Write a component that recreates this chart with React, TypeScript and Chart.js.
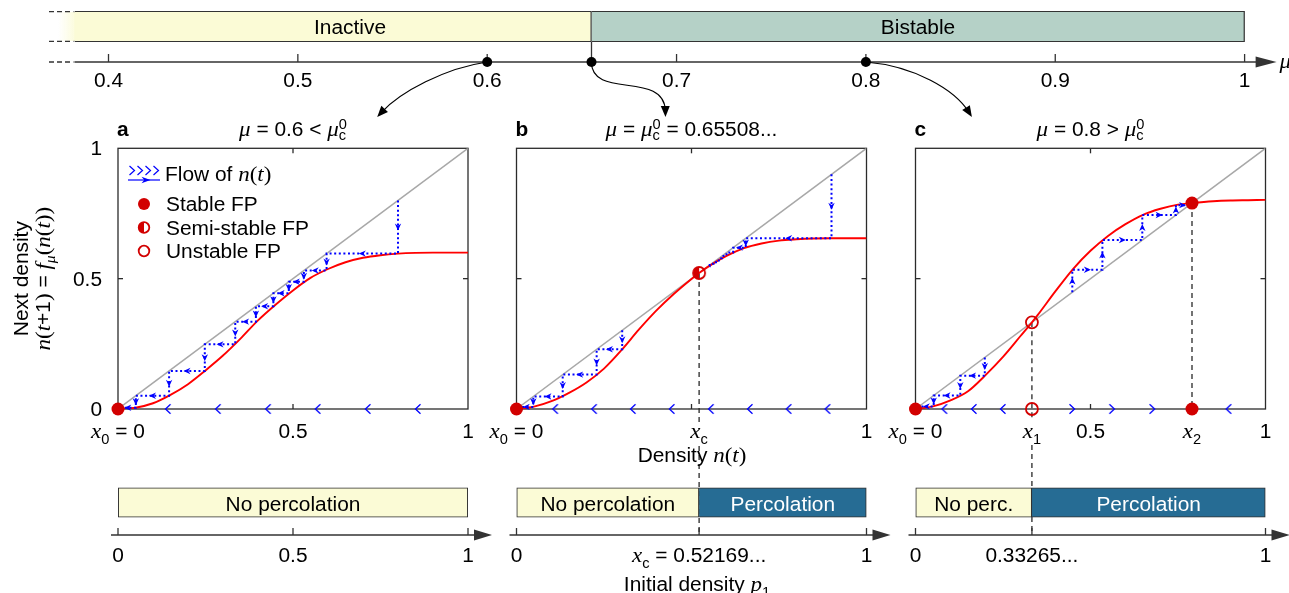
import React, { useEffect, useRef } from 'react';
import { Chart, registerables } from 'chart.js';

Chart.register(...registerables);

const W = 1289;
const H = 593;

/* ---------------- data ---------------- */
// top mu axis
const muTicks = [0.4, 0.5, 0.6, 0.7, 0.8, 0.9, 1];
const muTickLabels = ['0.4', '0.5', '0.6', '0.7', '0.8', '0.9', '1'];
const muMarked = [0.6, 0.65508, 0.8];
const muPhaseNames = ['Inactive', 'Bistable'];
const muPhaseFrom = [0.382, 0.65508];
const muPhaseTo = [0.65508, 1];

// map f_mu(n)
const nA = [0, 0.05, 0.1, 0.15, 0.2, 0.25, 0.3, 0.35, 0.4, 0.45, 0.5, 0.55, 0.6, 0.65, 0.7, 0.75, 0.8, 0.85, 0.9, 0.95, 1];
const fA = [0, 0.005, 0.022, 0.054, 0.095, 0.148, 0.205, 0.27, 0.34, 0.4, 0.455, 0.503, 0.537, 0.563, 0.58, 0.59, 0.596, 0.599, 0.6, 0.6, 0.6];
const nB = [0, 0.05, 0.1, 0.15, 0.2, 0.25, 0.3, 0.35, 0.4, 0.45, 0.5, 0.52169, 0.55, 0.6, 0.65, 0.7, 0.75, 0.8, 0.85, 0.9, 0.95, 1];
const fB = [0, 0.009, 0.03, 0.062, 0.102, 0.155, 0.226, 0.305, 0.378, 0.442, 0.499, 0.52169, 0.548, 0.587, 0.617, 0.635, 0.646, 0.651, 0.654, 0.655, 0.655, 0.655];
const nC = [0, 0.05, 0.1, 0.15, 0.2, 0.25, 0.3, 0.33265, 0.35, 0.4, 0.45, 0.5, 0.55, 0.6, 0.65, 0.7, 0.75, 0.79, 0.85, 0.9, 0.95, 1];
const fC = [0, 0.01, 0.033, 0.068, 0.13, 0.2, 0.28, 0.33265, 0.362, 0.452, 0.537, 0.607, 0.664, 0.709, 0.745, 0.768, 0.784, 0.79, 0.797, 0.8, 0.801, 0.802];

// cobweb iterations n(t)
const cobA = [0.8, 0.596, 0.531, 0.488, 0.444, 0.394, 0.335, 0.248, 0.146, 0.051, 0.005];
const cobB1 = [0.302, 0.229, 0.132, 0.048, 0.008];
const cobB2 = [0.9, 0.655, 0.619, 0.6, 0.587, 0.578, 0.57, 0.563, 0.557, 0.552, 0.548];
const cobC1 = [0.198, 0.128, 0.052, 0.01];
const cobC2 = [0.448, 0.534, 0.648, 0.744, 0.782, 0.789];

// flow chevrons on the n-axis
const flowALeft = [0.143, 0.286, 0.429, 0.571, 0.714, 0.857];
const flowBLeft = [0.111, 0.222, 0.333, 0.444, 0.556, 0.667, 0.778, 0.889];
const flowCLeft = [0.083, 0.167, 0.25, 0.895];
const flowCRight = [0.447, 0.561, 0.676];

// fixed points
const xc = 0.52169;
const x1 = 0.33265;
const x2 = 0.79;
const stableA = [0];
const stableB = [0];
const semiB = [xc];
const stableC = [0, x2];
const unstableC = [x1];

// bottom percolation bars
const percANames = ['No percolation'];
const percAFrom = [0];
const percATo = [1];
const percBNames = ['No percolation', 'Percolation'];
const percBFrom = [0, xc];
const percBTo = [xc, 1];
const percCNames = ['No perc.', 'Percolation'];
const percCFrom = [0, x1];
const percCTo = [x1, 1];
const p1TicksA = [0, 0.5, 1];
const p1LabelsA = ['0', '0.5', '1'];
const p1TicksB = [0, xc, 1];
const p1LabelsB = ['0', '= 0.52169...', '1'];
const p1TicksC = [0, x1, 1];
const p1LabelsC = ['0', '0.33265...', '1'];

/* ---------------- style ---------------- */
const YEL = '#fbfbd6';
const TEAL = '#b5d1c7';
const PBLUE = '#266c94';
const EDGE = '#333333';
const AXC = '#2b2b2b';
const RED = '#ff0000';
const FPRED = '#d20000';
const BLUE = '#0000ff';
const GRAY = '#a8a8a8';

const SANS = '"Liberation Sans", Arial, Helvetica, sans-serif';
const SERIF = '"Liberation Serif", "Times New Roman", serif';
const SX = 1.045;
const T = 20;
const MS = 22;

const PT = 148.3;
const PB = 409;
const PANEL_L = [118, 516.5, 915.5];
const PANEL_R = [468, 866.5, 1265.5];

type Seg = { t: string; f: string; dy?: number; sup?: string; supDy?: number };
const sn = (t: string, size = T, w = ''): Seg => ({ t, f: `${w} ${size}px ${SANS}`.trim() });
const mi = (t: string, size = MS): Seg => ({ t, f: `italic ${size}px ${SERIF}` });
const mr = (t: string, size = MS): Seg => ({ t, f: `${size}px ${SERIF}` });
const sb = (t: string, dy = 6): Seg => ({ t, f: `14px ${SANS}`, dy });
const sbsp = (b: string, p: string): Seg => ({ t: b, f: `14px ${SANS}`, dy: 4, sup: p, supDy: -7 });

function segWidth(ctx: any, s: Seg) {
  ctx.font = s.f;
  let w = ctx.measureText(s.t).width;
  if (s.sup) w = Math.max(w, ctx.measureText(s.sup).width);
  return w * SX;
}
function drawRich(ctx: any, segs: Seg[], x: number, y: number, align = 'center', color = '#000') {
  const w = segs.reduce((a, s) => a + segWidth(ctx, s), 0);
  let cx = align === 'center' ? x - w / 2 : align === 'right' ? x - w : x;
  ctx.save();
  ctx.fillStyle = color;
  ctx.textAlign = 'left';
  ctx.textBaseline = 'alphabetic';
  for (const s of segs) {
    const sw = segWidth(ctx, s);
    ctx.save();
    ctx.translate(cx, y);
    ctx.scale(SX, 1);
    ctx.font = s.f;
    ctx.fillText(s.t, 0, s.dy || 0);
    if (s.sup) ctx.fillText(s.sup, 0, s.supDy || 0);
    ctx.restore();
    cx += sw;
  }
  ctx.restore();
}
function line(ctx: any, ax: number, ay: number, bx: number, by: number) {
  ctx.beginPath();
  ctx.moveTo(ax, ay);
  ctx.lineTo(bx, by);
  ctx.stroke();
}
function arrowHead(ctx: any, x: number, y: number, dx: number, dy: number, len = 7, hw = 3.2) {
  const tx = x + (dx * len) / 2, ty = y + (dy * len) / 2;
  const bx = x - (dx * len) / 2, by = y - (dy * len) / 2;
  const nx = -dy, ny = dx;
  ctx.beginPath();
  ctx.moveTo(tx, ty);
  ctx.lineTo(bx + nx * hw, by + ny * hw);
  ctx.lineTo(x - dx * len * 0.2, y - dy * len * 0.2);
  ctx.lineTo(bx - nx * hw, by - ny * hw);
  ctx.closePath();
  ctx.fill();
}
function tipArrow(ctx: any, tx: number, ty: number, dx: number, dy: number, len: number, hw: number) {
  const nx = -dy, ny = dx;
  const bx = tx - dx * len, by = ty - dy * len;
  ctx.beginPath();
  ctx.moveTo(tx, ty);
  ctx.lineTo(bx + nx * hw, by + ny * hw);
  ctx.lineTo(bx - nx * hw, by - ny * hw);
  ctx.closePath();
  ctx.fill();
}
function dot(ctx: any, x: number, y: number, r: number) {
  ctx.fillStyle = FPRED;
  ctx.beginPath();
  ctx.arc(x, y, r, 0, Math.PI * 2);
  ctx.fill();
}
function ring(ctx: any, x: number, y: number, r: number) {
  ctx.strokeStyle = FPRED;
  ctx.lineWidth = 1.8;
  ctx.beginPath();
  ctx.arc(x, y, r, 0, Math.PI * 2);
  ctx.stroke();
}
function semi(ctx: any, x: number, y: number, r: number) {
  ctx.fillStyle = FPRED;
  ctx.beginPath();
  ctx.moveTo(x, y - r);
  ctx.arc(x, y, r, -Math.PI / 2, Math.PI / 2, true);
  ctx.closePath();
  ctx.fill();
  ring(ctx, x, y, r);
}

const nOfT: Seg[] = [mi('n'), mr('('), mi('t'), mr(')')];
const muC0: Seg[] = [mi('μ'), sbsp('c', '0')];
const titleA: Seg[] = [mi('μ'), sn(' = 0.6 < '), ...muC0];
const titleB: Seg[] = [mi('μ'), sn(' = '), ...muC0, sn(' = 0.65508...')];
const titleC: Seg[] = [mi('μ'), sn(' = 0.8 > '), ...muC0];
const x0Lab: Seg[] = [mi('x'), sb('0'), sn(' = 0')];
const xLab = (s: string): Seg[] => [mi('x'), sb(s)];

/* ---------------- top mu chart ---------------- */
const TOP_L = 32.76;
const TOP_R = 1282.47;
const AXY = 62;

const topPlugin = {
  id: 'topAxis',
  beforeDatasetsDraw(chart: any) {
    const { ctx, chartArea: a, scales } = chart;
    const x0 = scales.x.getPixelForValue(muPhaseFrom[0]);
    const g = ctx.createLinearGradient(x0 - 16, 0, x0 + 4, 0);
    g.addColorStop(0, 'rgba(251,251,214,0)');
    g.addColorStop(1, YEL);
    ctx.save();
    ctx.fillStyle = g;
    ctx.fillRect(x0 - 16, a.top + 1, 20, a.bottom - a.top - 2);
    ctx.restore();
  },
  afterDraw(chart: any) {
    const { ctx, chartArea: a, scales } = chart;
    const X = (v: number) => scales.x.getPixelForValue(v);
    ctx.save();
    ctx.strokeStyle = EDGE;
    ctx.lineWidth = 1.3;
    ctx.setLineDash([5, 3]);
    for (const yy of [a.top + 0.6, a.bottom - 0.6, AXY]) line(ctx, 49, yy, X(muPhaseFrom[0]) - 1, yy);
    ctx.setLineDash([]);
    line(ctx, X(muPhaseFrom[1]), a.bottom, X(muPhaseFrom[1]), AXY);
    line(ctx, X(muPhaseFrom[0]), AXY, X(1) + 14, AXY);
    ctx.fillStyle = EDGE;
    tipArrow(ctx, X(1) + 32, AXY, 1, 0, 21, 5.5);
    muTicks.forEach((v, i) => {
      line(ctx, X(v), AXY, X(v), AXY - 8);
      drawRich(ctx, [sn(muTickLabels[i])], X(v), 86.5, 'center');
    });
    drawRich(ctx, [mi('μ')], X(1) + 35, 68, 'left');
    muPhaseNames.forEach((nm, i) => {
      const cx = (X(Math.max(muPhaseFrom[i], muTicks[0])) + X(muPhaseTo[i])) / 2;
      drawRich(ctx, [sn(nm)], cx, 33.5, 'center');
    });
    const ctrl = [
      [[-42, 6], [-87, 30], [-110, 55]],
      [[0, 38], [73, 8], [74, 55]],
      [[49, 4], [89, 28], [106, 55]],
    ];
    ctx.lineWidth = 1.2;
    ctx.strokeStyle = '#000';
    ctx.fillStyle = '#000';
    muMarked.forEach((m, i) => {
      const sx = X(m), sy = AXY;
      const [c1, c2, e] = ctrl[i];
      const ex = sx + e[0], ey = sy + e[1];
      const p2x = sx + c2[0], p2y = sy + c2[1];
      let dx = ex - p2x, dy = ey - p2y;
      const L = Math.hypot(dx, dy);
      dx /= L;
      dy /= L;
      ctx.beginPath();
      ctx.moveTo(sx, sy);
      ctx.bezierCurveTo(sx + c1[0], sy + c1[1], p2x, p2y, ex - dx * 6, ey - dy * 6);
      ctx.stroke();
      tipArrow(ctx, ex, ey, dx, dy, 11, 4.5);
    });
    muMarked.forEach((m) => {
      ctx.beginPath();
      ctx.arc(X(m), AXY, 5, 0, Math.PI * 2);
      ctx.fill();
    });
    ctx.restore();
  },
};

function topConfig(): any {
  return {
    type: 'bar',
    data: {
      labels: ['mu'],
      datasets: muPhaseNames.map((name, i) => ({
        label: name,
        data: [[muPhaseFrom[i], muPhaseTo[i]]],
        backgroundColor: [YEL, TEAL][i],
        borderColor: EDGE,
        borderWidth: { left: 0, top: 1.3, right: 1.3, bottom: 1.3 },
        borderSkipped: false,
        grouped: false,
        barPercentage: 1,
        categoryPercentage: 1,
      })),
    },
    options: {
      indexAxis: 'y',
      animation: false,
      responsive: false,
      events: [],
      layout: { padding: { left: TOP_L, right: W - TOP_R, top: 11, bottom: H - 42 } },
      scales: { x: { type: 'linear', min: 0.36, max: 1.02, display: false }, y: { display: false } },
      plugins: { legend: { display: false }, tooltip: { enabled: false } },
    },
    plugins: [topPlugin],
  };
}

/* ---------------- panels ---------------- */
function cobPath(seq: number[]) {
  const pts = [{ x: seq[0], y: seq[0] }];
  for (let i = 0; i < seq.length - 1; i++) {
    pts.push({ x: seq[i], y: seq[i + 1] });
    pts.push({ x: seq[i + 1], y: seq[i + 1] });
  }
  return pts;
}

type Guide = { v: number; top: number; end: number | null; gap?: [number, number] };
type PanelSpec = {
  idx: number;
  letter: string;
  title: Seg[];
  ns: number[];
  fs: number[];
  cobs: number[][];
  flowL: number[];
  flowR: number[];
  stable: number[];
  semi: number[];
  unstable: number[];
  axisStable: number[];
  axisUnstable: number[];
  xLabels: [number, Seg[]][];
  guides: Guide[];
  extra?: (ctx: any, chart: any) => void;
  yLabels?: boolean;
};

function panelConfig(p: PanelSpec, img: any): any {
  const datasets: any[] = [
    { type: 'scatter', data: p.stable.map((v) => ({ x: v, y: v })).concat(p.axisStable.map((v) => ({ x: v, y: 0 }))), pointStyle: 'circle', pointRadius: 6.5, backgroundColor: FPRED, borderWidth: 0, clip: false, order: 0 },
    { type: 'scatter', data: p.unstable.map((v) => ({ x: v, y: v })).concat(p.axisUnstable.map((v) => ({ x: v, y: 0 }))), pointStyle: 'circle', pointRadius: 6, backgroundColor: 'rgba(0,0,0,0)', borderColor: FPRED, borderWidth: 1.8, clip: false, order: 0 },
    { type: 'scatter', data: p.semi.map((v) => ({ x: v, y: v })), pointStyle: img.semi, pointRadius: 6, clip: false, order: 0 },
    { type: 'scatter', data: p.flowL.map((v) => ({ x: v, y: 0 })), pointStyle: img.left, pointRadius: 5, clip: false, order: 1 },
    { type: 'scatter', data: p.flowR.map((v) => ({ x: v, y: 0 })), pointStyle: img.right, pointRadius: 5, clip: false, order: 1 },
    ...p.cobs.map((c) => ({ type: 'line', data: cobPath(c), borderColor: BLUE, borderWidth: 2, borderDash: [2, 2.6], pointRadius: 0, tension: 0, order: 2 })),
    { type: 'line', data: p.ns.map((x, i) => ({ x, y: p.fs[i] })), borderColor: RED, borderWidth: 1.9, pointRadius: 0, cubicInterpolationMode: 'monotone', order: 3 },
    { type: 'line', data: [{ x: 0, y: 0 }, { x: 1, y: 1 }], borderColor: GRAY, borderWidth: 1.5, pointRadius: 0, order: 4 },
  ];
  const plugin = {
    id: 'panel' + p.letter,
    beforeDatasetsDraw(chart: any) {
      const { ctx, chartArea: a, scales } = chart;
      const X = (v: number) => scales.x.getPixelForValue(v);
      const Y = (v: number) => scales.y.getPixelForValue(v);
      ctx.save();
      ctx.strokeStyle = '#000';
      ctx.lineWidth = 1.1;
      ctx.setLineDash([5, 4]);
      for (const g of p.guides) {
        const gx = X(g.v);
        const gy = Y(g.top);
        const end = g.end ?? a.bottom;
        if (g.gap) {
          line(ctx, gx, gy, gx, g.gap[0]);
          line(ctx, gx, g.gap[1], gx, end);
        } else line(ctx, gx, gy, gx, end);
      }
      ctx.setLineDash([]);
      ctx.strokeStyle = AXC;
      ctx.lineWidth = 1.3;
      ctx.strokeRect(a.left, a.top, a.right - a.left, a.bottom - a.top);
      const tx = X(0.5), ty = Y(0.5);
      line(ctx, tx, a.top, tx, a.top + 5);
      line(ctx, tx, a.bottom, tx, a.bottom - 5);
      line(ctx, a.left, ty, a.left + 5, ty);
      line(ctx, a.right, ty, a.right - 5, ty);
      ctx.restore();
    },
    afterDatasetsDraw(chart: any) {
      const { ctx, scales } = chart;
      const X = (v: number) => scales.x.getPixelForValue(v);
      const Y = (v: number) => scales.y.getPixelForValue(v);
      ctx.save();
      ctx.fillStyle = BLUE;
      for (const s of p.cobs) {
        for (let i = 0; i < s.length - 1; i++) {
          const X0 = X(s[i]), Y0 = Y(s[i]), X1 = X(s[i + 1]), Y1 = Y(s[i + 1]);
          if (Math.abs(Y1 - Y0) > 8) arrowHead(ctx, X0, (Y0 + Y1) / 2, 0, Math.sign(Y1 - Y0));
          if (Math.abs(X1 - X0) > 8) arrowHead(ctx, (X0 + X1) / 2, Y1, Math.sign(X1 - X0), 0);
        }
      }
      ctx.restore();
    },
    afterDraw(chart: any) {
      const { ctx, chartArea: a, scales } = chart;
      const X = (v: number) => scales.x.getPixelForValue(v);
      const Y = (v: number) => scales.y.getPixelForValue(v);
      drawRich(ctx, [sn(p.letter, T, 'bold')], a.left - 1, 136, 'left');
      drawRich(ctx, p.title, (a.left + a.right) / 2, 136, 'center');
      for (const [v, segs] of p.xLabels) drawRich(ctx, segs, X(v), 438, 'center');
      if (p.yLabels) {
        for (const [v, s] of [[1, '1'], [0.5, '0.5'], [0, '0']] as [number, string][]) drawRich(ctx, [sn(s)], a.left - 16, Y(v) + 7, 'right');
      }
      if (p.extra) p.extra(ctx, chart);
    },
  };
  return {
    type: 'scatter',
    data: { datasets },
    options: {
      animation: false,
      responsive: false,
      events: [],
      layout: { padding: { left: PANEL_L[p.idx], right: W - PANEL_R[p.idx], top: PT, bottom: H - PB } },
      scales: { x: { type: 'linear', min: 0, max: 1, display: false }, y: { type: 'linear', min: 0, max: 1, display: false } },
      plugins: { legend: { display: false }, tooltip: { enabled: false } },
    },
    plugins: [plugin],
  };
}

function legendAndYTitle(ctx: any) {
  ctx.save();
  ctx.strokeStyle = BLUE;
  ctx.lineWidth = 1.2;
  for (const cx of [132, 140, 148, 156]) {
    ctx.beginPath();
    ctx.moveTo(cx - 2.5, 166);
    ctx.lineTo(cx + 2.5, 170.5);
    ctx.lineTo(cx - 2.5, 175);
    ctx.stroke();
  }
  line(ctx, 128, 180, 160, 180);
  ctx.fillStyle = BLUE;
  arrowHead(ctx, 146, 180, 1, 0, 9, 3.2);
  drawRich(ctx, [sn('Flow of '), ...nOfT], 165, 181, 'left');
  dot(ctx, 144, 204, 6);
  semi(ctx, 144, 227.5, 5.3);
  ring(ctx, 144, 251, 5.3);
  drawRich(ctx, [sn('Stable FP')], 166, 211, 'left');
  drawRich(ctx, [sn('Semi-stable FP')], 166, 234.7, 'left');
  drawRich(ctx, [sn('Unstable FP')], 166, 258, 'left');
  const yc = (PT + PB) / 2;
  ctx.save();
  ctx.translate(27.5, yc);
  ctx.rotate(-Math.PI / 2);
  drawRich(ctx, [sn('Next density')], 0, 0, 'center');
  ctx.restore();
  ctx.save();
  ctx.translate(50, yc);
  ctx.rotate(-Math.PI / 2);
  drawRich(
    ctx,
    [mi('n'), mr('('), mi('t'), sn('+1'), mr(')'), sn(' = '), mi('f'), { t: 'μ', f: `italic 15px ${SERIF}`, dy: 5 }, mr('('), mi('n'), mr('('), mi('t'), mr(')'), mr(')')],
    0,
    0,
    'center'
  );
  ctx.restore();
  ctx.restore();
}

const BAXY = 535;

const panelSpecs: PanelSpec[] = [
  {
    idx: 0, letter: 'a', title: titleA, ns: nA, fs: fA, cobs: [cobA], flowL: flowALeft, flowR: [],
    stable: stableA, semi: [], unstable: [], axisStable: [], axisUnstable: [],
    xLabels: [[0, x0Lab], [0.5, [sn('0.5')]], [1, [sn('1')]]],
    guides: [], yLabels: true,
    extra: (ctx) => legendAndYTitle(ctx),
  },
  {
    idx: 1, letter: 'b', title: titleB, ns: nB, fs: fB, cobs: [cobB1, cobB2], flowL: flowBLeft, flowR: [],
    stable: stableB, semi: semiB, unstable: [], axisStable: [], axisUnstable: [],
    xLabels: [[0, x0Lab], [xc, xLab('c')], [1, [sn('1')]]],
    guides: [{ v: xc, top: xc, end: BAXY, gap: [425, 446] }],
    extra: (ctx) => drawRich(ctx, [sn('Density '), ...nOfT], 692, 461.5, 'center'),
  },
  {
    idx: 2, letter: 'c', title: titleC, ns: nC, fs: fC, cobs: [cobC1, cobC2], flowL: flowCLeft, flowR: flowCRight,
    stable: stableC, semi: [], unstable: unstableC, axisStable: [x2], axisUnstable: [x1],
    xLabels: [[0, x0Lab], [x1, xLab('1')], [0.5, [sn('0.5')]], [x2, xLab('2')], [1, [sn('1')]]],
    guides: [{ v: x1, top: x1, end: BAXY, gap: [420, 445] }, { v: x2, top: x2, end: null }],
  },
];

/* ---------------- bottom bars ---------------- */
type BarSpec = { idx: number; names: string[]; from: number[]; to: number[]; ticks: number[]; labels: string[]; xcLabel?: boolean; extra?: boolean };

function barConfig(b: BarSpec): any {
  const plugin = {
    id: 'bars' + b.idx,
    afterDraw(chart: any) {
      const { ctx, scales } = chart;
      const X = (v: number) => scales.x.getPixelForValue(v);
      ctx.save();
      b.names.forEach((nm, i) => {
        drawRich(ctx, [sn(nm)], (X(b.from[i]) + X(b.to[i])) / 2, 510.5, 'center', i === 0 ? '#000' : '#ffffff');
      });
      ctx.strokeStyle = EDGE;
      ctx.lineWidth = 1.3;
      line(ctx, X(0) - 7, BAXY, X(1) + 8, BAXY);
      ctx.fillStyle = EDGE;
      tipArrow(ctx, X(1) + 24, BAXY, 1, 0, 18, 5.5);
      b.ticks.forEach((v, i) => {
        line(ctx, X(v), BAXY, X(v), BAXY - 7);
        const segs = b.xcLabel && i === 1 ? [mi('x'), sb('c'), sn(' ' + b.labels[i])] : [sn(b.labels[i])];
        drawRich(ctx, segs, X(v), 561.5, 'center');
      });
      if (b.extra) drawRich(ctx, [sn('Initial density '), mi('p'), sb('1')], 697, 591, 'center');
      ctx.restore();
    },
  };
  return {
    type: 'bar',
    data: {
      labels: ['p1'],
      datasets: b.names.map((nm, i) => ({
        label: nm,
        data: [[b.from[i], b.to[i]]],
        backgroundColor: i === 0 ? YEL : PBLUE,
        borderColor: EDGE,
        borderWidth: { left: i === 0 ? 1.3 : 0, top: 1.3, right: 1.3, bottom: 1.3 },
        borderSkipped: false,
        grouped: false,
        barPercentage: 1,
        categoryPercentage: 1,
      })),
    },
    options: {
      indexAxis: 'y',
      animation: false,
      responsive: false,
      events: [],
      layout: { padding: { left: PANEL_L[b.idx], right: W - PANEL_R[b.idx], top: 487.5, bottom: H - 517.5 } },
      scales: { x: { type: 'linear', min: 0, max: 1, display: false }, y: { display: false } },
      plugins: { legend: { display: false }, tooltip: { enabled: false } },
    },
    plugins: [plugin],
  };
}

const barSpecs: BarSpec[] = [
  { idx: 0, names: percANames, from: percAFrom, to: percATo, ticks: p1TicksA, labels: p1LabelsA },
  { idx: 1, names: percBNames, from: percBFrom, to: percBTo, ticks: p1TicksB, labels: p1LabelsB, xcLabel: true, extra: true },
  { idx: 2, names: percCNames, from: percCFrom, to: percCTo, ticks: p1TicksC, labels: p1LabelsC },
];

/* ---------------- point images ---------------- */
function makeImages() {
  const chev = (dir: number) => {
    const c = document.createElement('canvas');
    c.width = 10;
    c.height = 14;
    const g = c.getContext('2d') as any;
    g.strokeStyle = BLUE;
    g.lineWidth = 1.3;
    g.beginPath();
    if (dir < 0) {
      g.moveTo(7.5, 2.3);
      g.lineTo(2.5, 7);
      g.lineTo(7.5, 11.7);
    } else {
      g.moveTo(2.5, 2.3);
      g.lineTo(7.5, 7);
      g.lineTo(2.5, 11.7);
    }
    g.stroke();
    return c;
  };
  const s = document.createElement('canvas');
  s.width = 18;
  s.height = 18;
  semi(s.getContext('2d'), 9, 9, 6);
  return { left: chev(-1), right: chev(1), semi: s };
}

export default function App() {
  const refs = useRef<(HTMLCanvasElement | null)[]>([]);
  useEffect(() => {
    const img = makeImages();
    const charts: Chart[] = [];
    const cv = refs.current;
    charts.push(new Chart(cv[0] as any, topConfig()));
    panelSpecs.forEach((p, i) => charts.push(new Chart(cv[1 + i] as any, panelConfig(p, img))));
    barSpecs.forEach((b, i) => charts.push(new Chart(cv[4 + i] as any, barConfig(b))));
    return () => charts.forEach((c) => c.destroy());
  }, []);
  return (
    <div style={{ position: 'fixed', left: 0, top: 0, width: W, height: H, background: '#ffffff', overflow: 'hidden' }}>
      {Array.from({ length: 7 }).map((_, i) => (
        <canvas
          key={i}
          ref={(el) => {
            refs.current[i] = el;
          }}
          width={W}
          height={H}
          style={{ position: 'absolute', left: 0, top: 0, width: W, height: H }}
        />
      ))}
    </div>
  );
}
